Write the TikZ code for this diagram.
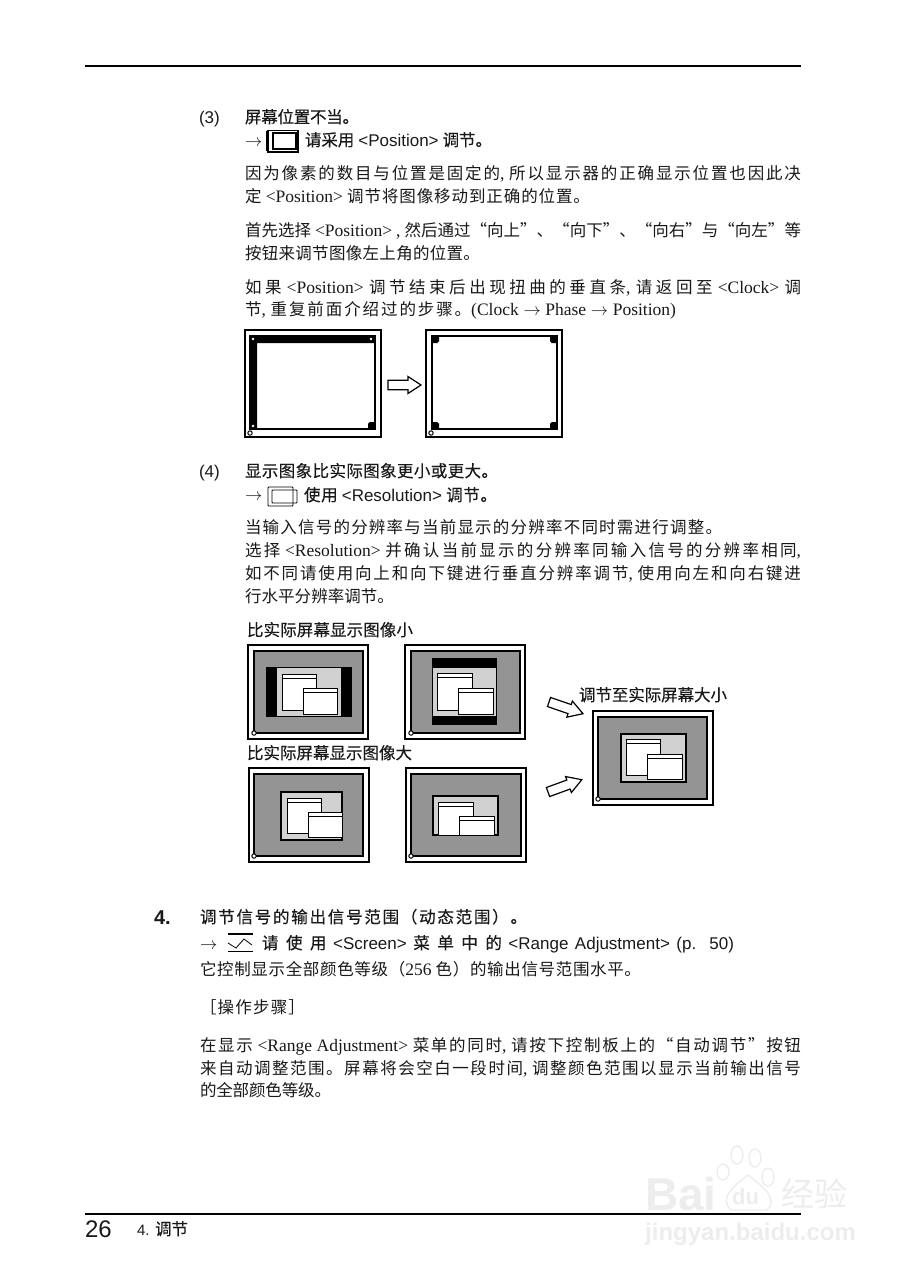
\documentclass[tikz,border=0pt]{standalone}
\usepackage{fontspec}
\setmainfont{Liberation Serif}
\setsansfont{Liberation Sans}
\newfontfamily\cjkfont{Noto Sans CJK SC}
\newfontfamily\cjkhead[FakeBold=0.25]{Noto Sans CJK SC}
% stretchable glue between CJK characters, so that each line can be justified
\newXeTeXintercharclass\cjkclass
\newcount\cjkcnt
\newcommand{\cjkrange}[2]{\cjkcnt=#1\relax\loop\XeTeXcharclass\cjkcnt=\cjkclass\relax\ifnum\cjkcnt<#2\relax\advance\cjkcnt by 1\relax\repeat}
\cjkrange{"3000}{"303F}
\cjkrange{"4E00}{"9FFF}
\cjkrange{"FF00}{"FFEF}
\cjkrange{"201C}{"201D}
\XeTeXinterchartoks\cjkclass\cjkclass={\hskip 0pt plus 3pt minus 1pt\relax}
\XeTeXinterchartokenstate=1
\newif\ifheadtext
\newcommand{\zh}[1]{{\ifheadtext\cjkhead\else\cjkfont\fi\fontsize{16.5}{16.5}\selectfont #1}}
\newcommand{\bodyfontset}{\fontsize{17.5}{17.5}\selectfont\spaceskip 4pt plus 1pt\relax}
\newcommand{\headfontset}{\fontsize{17}{17}\selectfont\sffamily\headtexttrue\spaceskip 4pt plus 1pt\relax}
\newcommand{\footfontset}{\fontsize{15}{15}\selectfont\sffamily\headtexttrue}
\definecolor{scrgray}{gray}{0.58}
\definecolor{lightg}{gray}{0.82}
\definecolor{wm}{gray}{0.93}
\tikzset{
  frame/.style={draw=black,line width=1.1pt,fill=white},
  screen/.style={draw=black,line width=1.2pt,fill=scrgray},
  desk/.style={draw=black,line width=1.1pt,fill=lightg},
  win/.style={draw=black,line width=1pt,fill=white},
  fatarrow/.style={draw=black,line width=1.2pt,fill=white,line join=miter},
  rule/.style={draw=black,line width=1.2pt},
  txt/.style={anchor=base west,inner sep=0pt,outer sep=0pt,text=black!90},
  body/.style={txt,font=\bodyfontset},
  head/.style={txt,font=\headfontset},
  watermark/.style={anchor=base west,inner sep=0pt,text=wm}
}
% name, y-baseline, x-start, x-end, text
\newcommand{\bline}[5]{\pgfmathsetlengthmacro{\lw}{(#4-#3)*1pt}\node[body] (#1) at (#3,#2) {\makebox[\lw][s]{#5}};}
\newcommand{\hdline}[5]{\pgfmathsetlengthmacro{\lw}{(#4-#3)*1pt}\node[head] (#1) at (#3,#2) {\makebox[\lw][s]{#5}};}
% frame x1 y1 x2 y2, screen x1 y1 x2 y2
\newcommand{\monitor}[8]{\draw[frame] (#1,#2) rectangle (#3,#4);\draw[screen] (#5,#6) rectangle (#7,#8);\draw[line width=1pt,fill=white] (#5,#8) circle (2.2);}
% window: x1 y1 x2 y2
\newcommand{\winbox}[4]{\draw[win] (#1,#2) rectangle (#3,#4);\draw[line width=.9pt] (#1,#2+4) -- (#3,#2+4);}
% arrow at tail x,y rotated
\newcommand{\fatarr}[4]{\draw[fatarrow,shift={(#1,#2)},rotate=#3,xscale=#4] (0,-4.8) -- (20,-4.8) -- (20,-8.5) -- (33,0) -- (20,8.5) -- (20,4.8) -- (0,4.8) -- cycle;}
\begin{document}
\begin{tikzpicture}[x=1pt,y=-1pt]
\useasboundingbox (0,0) rectangle (906,1280);
\fill[white] (0,0) rectangle (906,1280);

% watermark
\begin{scope}
\node[watermark,font=\fontsize{46}{46}\selectfont\sffamily\bfseries] (wmbai) at (645,1210) {Bai};
\node[watermark,font=\fontsize{22}{22}\selectfont\sffamily\bfseries] (wmdu) at (732,1204) {du};
\node[watermark,font=\fontsize{33}{33}\selectfont\cjkfont] (wmjy) at (781,1206) {经验};
\node[watermark,font=\fontsize{24}{24}\selectfont\sffamily\bfseries] (wmurl) at (645,1240) {jingyan.baidu.com};
\draw[wm,line width=1.4pt] (737,1155) ellipse (6 and 9) (755,1158) ellipse (6 and 9)
  (723,1172) ellipse (6 and 8) (768,1177) ellipse (6 and 9);
\draw[wm,line width=1.4pt] (731,1210) .. controls (718,1198) and (735,1185) .. (748,1175) .. controls (760,1185) and (780,1198) .. (767,1210) -- cycle;
\end{scope}

% rules
\coordinate (rt1) at (85,66); \coordinate (rt2) at (801,66);
\coordinate (rb1) at (85,1214); \coordinate (rb2) at (801,1214);
\draw[rule] (rt1) -- (rt2);
\draw[rule] (rb1) -- (rb2);

% item 3
\node[head] (n3) at (199,123) {(3)};
\hdline{h3}{123}{245}{359}{\zh{屏幕位置不当。}}
\node[head] (a3) at (245,146) {$\rightarrow$};
\draw[line width=1.6pt] (267,131) -- (267,151);
\draw[line width=1.1pt] (268,130.5) rectangle (298,152);
\draw[line width=1.1pt] (273,133) rectangle (296,149);
\hdline{h3b}{146}{305}{492}{\zh{请采用} <Position> \zh{调节。}}
\bline{l1}{179}{245}{801}{\zh{因为像素的数目与位置是固定的}, \zh{所以显示器的正确显示位置也因此决}}
\bline{l2}{202}{245}{590}{\zh{定} <Position> \zh{调节将图像移动到正确的位置。}}
\bline{l3}{236}{245}{801}{\zh{首先选择} <Position> , \zh{然后通过“向上”、“向下”、“向右”与“向左”等}}
\bline{l4}{259}{245}{480}{\zh{按钮来调节图像左上角的位置。}}
\bline{l5}{293}{245}{801}{\zh{如果} <Position> \zh{调节结束后出现扭曲的垂直条}, \zh{请返回至} <Clock> \zh{调}}
\bline{l6}{315}{245}{676}{\zh{节}, \zh{重复前面介绍过的步骤。}(Clock $\rightarrow$ Phase $\rightarrow$ Position)}

% position figure
\draw[frame] (245,330) rectangle (381,437);
\draw[line width=1.2pt] (250,336) rectangle (375,429);
\fill[black] (250,336) rectangle (375,343) (250,336) rectangle (257,429);
\fill[black] (368,422) rectangle (375,429);
\fill[white] (253,339) circle (1.3) (371,339) circle (1.3) (253,426) circle (1.3) (368,422) circle (1.5);
\draw[line width=1pt,fill=white] (250,433) circle (2.2);
\draw[frame] (426,330) rectangle (562,437);
\draw[line width=1.2pt] (432,336) rectangle (557,429);
\fill[black] (432,336) rectangle (439,343) (550,336) rectangle (557,343) (432,422) rectangle (439,429) (550,422) rectangle (557,429);
\fill[white] (439,343) circle (1.6) (550,343) circle (1.6) (439,422) circle (1.6) (550,422) circle (1.6);
\draw[line width=1pt,fill=white] (431,433) circle (2.2);
\fatarr{388}{385}{0}{1}

% item 4
\node[head] (n4) at (199,477) {(4)};
\hdline{h4}{477}{245}{498}{\zh{显示图象比实际图象更小或更大。}}
\node[head] (a4) at (245,500) {$\rightarrow$};
\draw[line width=.9pt,rounded corners=.8pt] (268,487) rectangle (293,506);
\draw[line width=.9pt,rounded corners=.8pt] (272,490) rectangle (297,503);
\hdline{h4b}{501}{304}{497}{\zh{使用} <Resolution> \zh{调节。}}
\bline{m1}{533}{245}{722}{\zh{当输入信号的分辨率与当前显示的分辨率不同时需进行调整。}}
\bline{m2}{556}{245}{801}{\zh{选择} <Resolution> \zh{并确认当前显示的分辨率同输入信号的分辨率相同},}
\bline{m3}{579}{245}{801}{\zh{如不同请使用向上和向下键进行垂直分辨率调节}, \zh{使用向左和向右键进}}
\bline{m4}{602}{245}{394}{\zh{行水平分辨率调节。}}

\hdline{c1}{636}{247}{413}{\zh{比实际屏幕显示图像小}}
\hdline{c2}{759}{247}{412}{\zh{比实际屏幕显示图像大}}
\hdline{c3}{701}{579}{727}{\zh{调节至实际屏幕大小}}

% A
\monitor{248}{645}{368}{739}{254}{651}{363}{733}
\fill[black] (266,667) rectangle (352,717);
\fill[lightg] (277,668) rectangle (341,716);
\winbox{282}{674}{316}{710}
\winbox{303}{688}{337}{714}
% B
\monitor{405}{645}{525}{739}{411}{651}{520}{733}
\fill[black] (432,658) rectangle (497,725);
\fill[lightg] (433,668) rectangle (496,716);
\winbox{437}{673}{472}{710}
\winbox{458}{688}{493}{714}
% C
\monitor{249}{768}{369}{862}{254}{774}{363}{856}
\draw[desk] (281,792) rectangle (342,840);
\winbox{287}{798}{321}{833}
\winbox{308}{812}{342}{837}
% D
\monitor{406}{768}{526}{862}{411}{774}{521}{856}
\draw[desk] (433,796) rectangle (498,835);
\winbox{438}{802}{473}{835}
\winbox{459}{816}{494}{835}
% E
\monitor{593}{711}{713}{805}{598}{717}{707}{799}
\draw[desk] (621,734) rectangle (686,782);
\winbox{626}{739}{660}{775}
\winbox{647}{754}{682}{779}
\fatarr{549}{702}{-19}{1.09}
\fatarr{548}{792}{20}{1.09}

% section 4
\node[txt,font=\fontsize{20}{20}\selectfont\sffamily\bfseries] (n5) at (154,924) {4.};
\hdline{s1}{923}{200}{527}{\zh{调节信号的输出信号范围（动态范围）。}}
\node[head] (a5) at (200,949) {$\rightarrow$};
\draw[line width=1.8pt] (228,934) -- (253,934) (228,951.5) -- (253,951.5);
\draw[line width=.8pt] (228,943) -- (236,948) -- (244,939) -- (252,945);
\hdline{s2}{949}{262}{734}{\zh{请使用} <Screen> \zh{菜单中的} <Range Adjustment> (p. 50)}
\bline{s3}{975}{200}{641}{\zh{它控制显示全部颜色等级（}256 \zh{色）的输出信号范围水平。}}
\bline{s4}{1013}{200}{305}{\zh{［操作步骤］}}
\bline{s5}{1051}{200}{801}{\zh{在显示} <Range Adjustment> \zh{菜单的同时}, \zh{请按下控制板上的“自动调节”按钮}}
\bline{s6}{1074}{200}{801}{\zh{来自动调整范围。屏幕将会空白一段时间}, \zh{调整颜色范围以显示当前输出信号}}
\bline{s7}{1096}{200}{331}{\zh{的全部颜色等级。}}

% footer
\node[txt,font=\fontsize{24}{24}\selectfont\sffamily] (pg) at (85,1237) {26};
\node[txt,font=\footfontset] (ft) at (137,1235) {4. \zh{调节}};
\end{tikzpicture}
\end{document}
